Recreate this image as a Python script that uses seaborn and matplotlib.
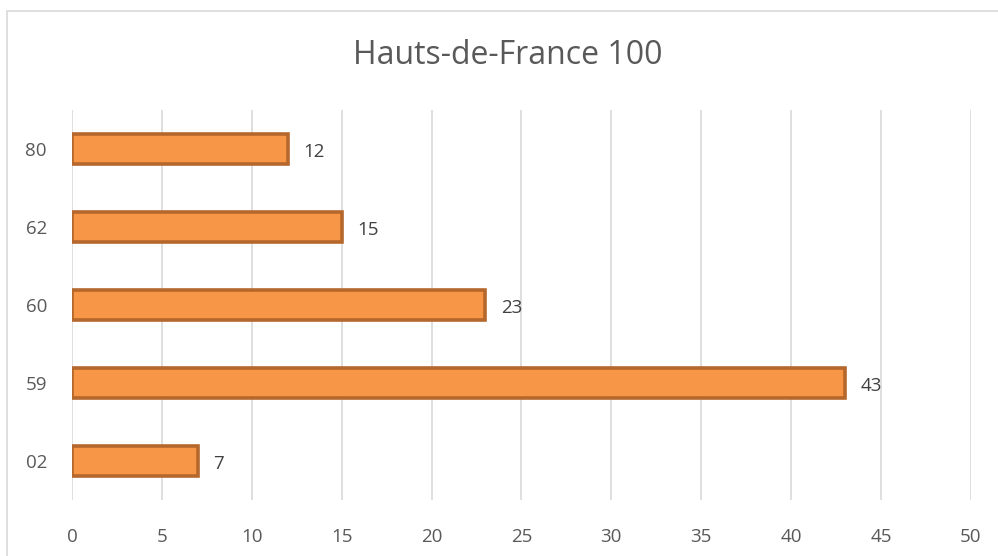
import matplotlib
matplotlib.use("Agg")
import matplotlib.pyplot as plt
import seaborn as sns
import pandas as pd
from matplotlib.patches import Rectangle

categories = ["80", "62", "60", "59", "02"]
values = [12, 15, 23, 43, 7]
title = "Hauts-de-France 100"
xticks = [0, 5, 10, 15, 20, 25, 30, 35, 40, 45, 50]

sns.set_theme(style="white")
plt.rcParams['font.family'] = ['Open Sans', 'DejaVu Sans']

df = pd.DataFrame({"cat": categories, "val": values})

fig = plt.figure(figsize=(9.98, 5.56), dpi=100)
ax = fig.add_axes([0.0721, 0.1007, 0.9008, 0.7014])

sns.barplot(data=df, x="val", y="cat", order=categories, orient="h",
            color="#F79646", saturation=1, edgecolor="#B5672C", linewidth=2.6,
            width=0.38, ax=ax, zorder=3)

ax.set_xlim(0, 50)
ax.set_ylim(4.5, -0.5)
ax.set_xticks(xticks)
ax.set_xticklabels([str(t) for t in xticks])
ax.grid(axis="x", color="#D9D9D9", linewidth=1.2, zorder=0)
ax.set_axisbelow(True)
for s in ax.spines.values():
    s.set_visible(False)
ax.tick_params(axis="both", length=0, labelsize=13.5, colors="#595959")
ax.tick_params(axis="x", pad=20)
ax.tick_params(axis="y", pad=18)
ax.set_xlabel("")
ax.set_ylabel("")

for i, v in enumerate(values):
    ax.text(v + 0.85, i + 0.04, str(v), va="center", ha="left", fontsize=13.5, color="#404040")

fig.text(0.509, 0.9, title, ha="center", va="center", fontsize=23, color="#595959")

fig.patches.append(Rectangle((7/998, -0.2), 1.2, 1.2 - 11/556, transform=fig.transFigure,
                             fill=False, edgecolor="#D9D9D9", linewidth=1.2))

fig.savefig("out.png", dpi=100)
